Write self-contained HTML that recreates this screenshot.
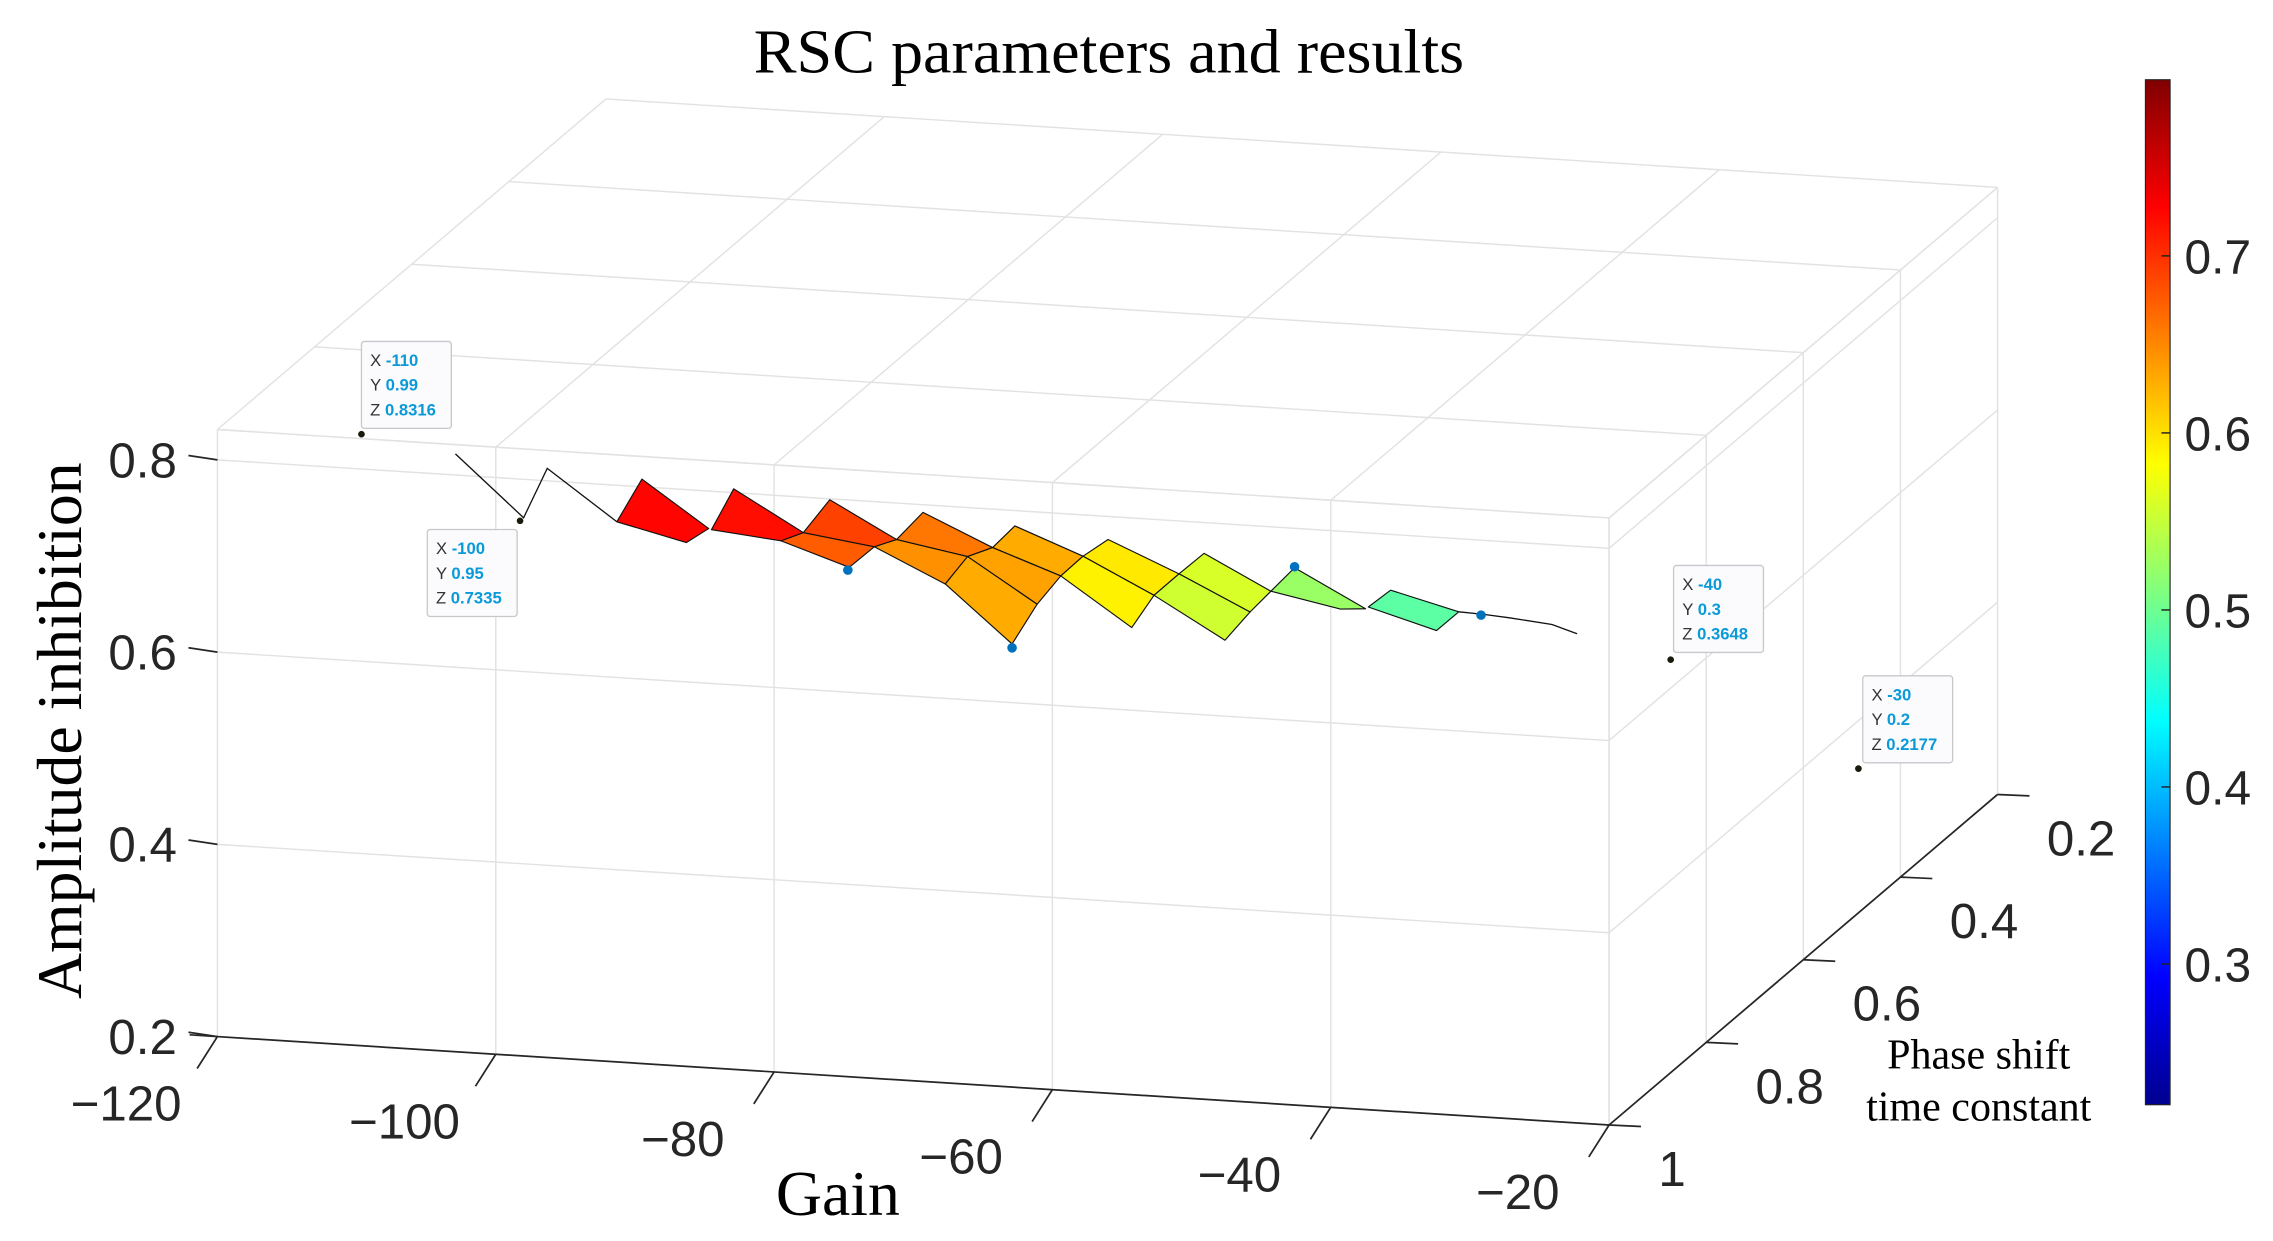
<!DOCTYPE html>
<html><head><meta charset="utf-8"><style>
html,body{margin:0;padding:0;background:#fff;}
svg{display:block;}
</style></head><body>
<svg id="chart" width="2273" height="1241" viewBox="0 0 1568 856" preserveAspectRatio="none" xmlns="http://www.w3.org/2000/svg">
<defs>
<linearGradient id="jet" x1="0" y1="1" x2="0" y2="0">
<stop offset="0" stop-color="#00008f"/><stop offset="0.125" stop-color="#0000ff"/><stop offset="0.375" stop-color="#00ffff"/><stop offset="0.625" stop-color="#ffff00"/><stop offset="0.875" stop-color="#ff0000"/><stop offset="1" stop-color="#800000"/>
</linearGradient>
</defs>
<text x="765" y="50" text-anchor="middle" font-family="Liberation Serif, serif" font-size="43" fill="#000" textLength="490" lengthAdjust="spacingAndGlyphs">RSC parameters and results</text>
<g id="grid"></g><g id="axes"></g><g id="surface"></g><g id="tips"></g>
<text x="578" y="838" text-anchor="middle" font-family="Liberation Serif, serif" font-size="44" fill="#000">Gain</text>
<text transform="translate(56,504) rotate(-90)" text-anchor="middle" font-family="Liberation Serif, serif" font-size="44" fill="#000">Amplitude inhibition</text>
<text x="1365" y="737" text-anchor="middle" font-family="Liberation Serif, serif" font-size="29" fill="#000">Phase shift</text>
<text x="1365" y="773" text-anchor="middle" font-family="Liberation Serif, serif" font-size="29" fill="#000">time constant</text>
<rect x="1480" y="55" width="17" height="707" fill="url(#jet)" stroke="#222" stroke-width="0.8"/>
<g id="cbticks"></g>
</svg>
<script>
const xTicks=[-120,-100,-80,-60,-40,-20];
const yTicks=[0.2,0.4,0.6,0.8,1];
const zTicks=[0.2,0.4,0.6,0.8];
const cbTicks=[0.3,0.4,0.5,0.6,0.7];
const cMin=0.2205, cMax=0.7995;
const zTop=0.8316;
// surface cells: gain (x), phase (y), amplitude (z) of each vertex; color value per cell
const cellX=[[-91.3,-89.5,-84.7,-86.3],[-84.5,-82.9,-77.9,-79.5],[-77.9,-76.0,-71.2,-72.8],[-79.5,-77.9,-72.8,-74.6],[-71.2,-69.3,-64.3,-66.1],[-72.8,-71.2,-66.1,-67.7],[-64.3,-62.7,-57.8,-59.4],[-66.1,-64.3,-59.4,-61.1],[-67.7,-66.1,-61.1,-62.9],[-57.8,-56.0,-50.9,-52.7],[-59.4,-57.8,-52.7,-54.3],[-50.9,-49.1,-44.3,-45.8],[-52.7,-50.9,-45.8,-47.6],[-44.3,-42.6,-37.5,-39.3],[-37.3,-35.7,-30.8,-32.4]];
const cellZ=[[0.762,0.808,0.761,0.745],[0.760,0.804,0.763,0.753],[0.763,0.799,0.762,0.753],[0.753,0.763,0.753,0.730],[0.762,0.792,0.760,0.749],[0.753,0.762,0.749,0.719],[0.760,0.784,0.757,0.735],[0.749,0.760,0.735,0.704],[0.719,0.749,0.704,0.661],[0.757,0.776,0.745,0.721],[0.735,0.757,0.721,0.686],[0.745,0.768,0.733,0.710],[0.721,0.745,0.710,0.679],[0.733,0.759,0.721,0.719],[0.723,0.742,0.724,0.703]];
const cellY=1;
const cellC=[0.725,0.72,0.69,0.675,0.66,0.645,0.63,0.635,0.63,0.595,0.59,0.56,0.555,0.525,0.49];
const lineAX=[-102.9,-98.0,-96.3,-91.3], lineAZ=[0.822,0.760,0.813,0.762];
const lineBX=[-30.8,-29.0,-27.1,-24.1,-22.3], lineBZ=[0.724,0.723,0.721,0.717,0.709];
const dotX=[-74.7,-62.9,-42.6,-29.2], dotZ=[0.727,0.657,0.760,0.722];
const tipX=[-110,-100,-40,-30], tipY=[0.99,0.95,0.3,0.2], tipZ=[0.8316,0.7335,0.3648,0.2177];
const tipLabX=['-110','-100','-40','-30'], tipLabY=['0.99','0.95','0.3','0.2'], tipLabZ=['0.8316','0.7335','0.3648','0.2177'];
const tipDX=[0,-64,2,3], tipDY=[-64,6,-65,-64];

const NS='http://www.w3.org/2000/svg';
function P(x,y,z){return [1110+9.6*(x+20)+335*(1-y), 776+0.61*(x+20)-285*(1-y)-663*(z-0.2)];}
function mk(tag,attrs,parent){const e=document.createElementNS(NS,tag);for(const k in attrs)e.setAttribute(k,attrs[k]);parent.appendChild(e);return e;}
function jet(v){const t=Math.max(0,Math.min(1,(v-cMin)/(cMax-cMin)));const c=a=>Math.round(255*Math.max(0,Math.min(1,1.5-Math.abs(4*t-a))));return `rgb(${c(3)},${c(2)},${c(1)})`;}
const G=document.getElementById('grid'),A=document.getElementById('axes'),S=document.getElementById('surface'),T=document.getElementById('tips'),CB=document.getElementById('cbticks');
function ln(p,q,stroke,w,parent,name){const e=mk('line',{x1:p[0],y1:p[1],x2:q[0],y2:q[1],stroke:stroke,'stroke-width':w},parent);

return e;}
const gc='#e2e2e2';
zTicks.concat([zTop]).forEach(z=>{ln(P(-120,1,z),P(-20,1,z),gc,1,G,'z-gridline');ln(P(-20,1,z),P(-20,0.2,z),gc,1,G,'z-gridline-side');});
xTicks.forEach(x=>{ln(P(x,1,0.2),P(x,1,zTop),gc,1,G,'x-gridline');ln(P(x,1,zTop),P(x,0.2,zTop),gc,1,G,'x-gridline-top');});
yTicks.forEach(y=>{ln(P(-20,y,0.2),P(-20,y,zTop),gc,1,G,'y-gridline');ln(P(-120,y,zTop),P(-20,y,zTop),gc,1,G,'y-gridline-top');});
ln(P(-122,1,0.2),P(-20,1,0.2),'#262626',1.2,A,'x-axis-line');
ln(P(-20,1,0.2),P(-20,0.2,0.2),'#262626',1.2,A,'y-axis-line');
function txt(s,x,y,anchor,name,parent,size){const e=mk('text',{x:x,y:y,'text-anchor':anchor,'font-family':'Liberation Sans, sans-serif','font-size':size||34,fill:'#262626'},parent);e.textContent=s;

return e;}
xTicks.forEach(x=>{const p=P(x,1,0.2);ln(p,[p[0]-14,p[1]+22],'#262626',1.2,A,'x-tick');txt(String(x).replace('-','\u2212'),p[0]-63,p[1]+58,'middle','x-tick-label',A);});
yTicks.forEach(y=>{const p=P(-20,y,0.2);ln(p,[p[0]+22,p[1]+1],'#262626',1.2,A,'y-tick');txt(String(y),p[0]+34,p[1]+42,'start','y-tick-label',A);});
zTicks.forEach(z=>{const p=P(-120,1,z);ln([p[0]-20,p[1]-3],p,'#262626',1.2,A,'z-tick');txt(String(z),p[0]-28,p[1]+12,'end','z-tick-label',A);});
cellX.forEach((xs,i)=>{const pts=xs.map((x,j)=>P(x,cellY,cellZ[i][j]).join(',')).join(' ');const e=mk('polygon',{points:pts,fill:jet(cellC[i]),stroke:'#111','stroke-width':0.8,'stroke-linejoin':'round'},S);

});
[[lineAX,lineAZ],[lineBX,lineBZ]].forEach(([xs,zs])=>{const e=mk('polyline',{points:xs.map((x,j)=>P(x,cellY,zs[j]).join(',')).join(' '),fill:'none',stroke:'#111','stroke-width':0.9},S);

});
dotX.forEach((x,i)=>{const p=P(x,cellY,dotZ[i]);const e=mk('circle',{cx:p[0],cy:p[1],r:3.3,fill:'#0072bd'},S);

});
tipX.forEach((x,i)=>{const p=P(x,tipY[i],tipZ[i]);const bx=p[0]+tipDX[i],by=p[1]+tipDY[i];
const g=mk('g',{},T);


mk('rect',{x:bx,y:by,width:62,height:60,rx:2,fill:'#fbfbfd',stroke:'#c8c8cc','stroke-width':0.9},g);
[['X',tipLabX[i]],['Y',tipLabY[i]],['Z',tipLabZ[i]]].forEach((r,k)=>{const t=mk('text',{x:bx+6,y:by+17+k*17,'font-family':'Liberation Sans, sans-serif','font-size':11.5,fill:'#333'},g);t.textContent=r[0]+' ';const s=mk('tspan',{fill:'#0a9ad8','font-weight':'bold'},t);s.textContent=r[1];

});
const d=mk('circle',{cx:p[0],cy:p[1],r:2.3,fill:'#1a1a0a'},T);

});
cbTicks.forEach(v=>{const y=762-(v-cMin)/(cMax-cMin)*707;ln([1491,y],[1497,y],'#222',1,CB,'colorbar-tick');txt(String(v),1507,y+12,'start','colorbar-tick-label',CB,33);});
</script>
</body></html>
